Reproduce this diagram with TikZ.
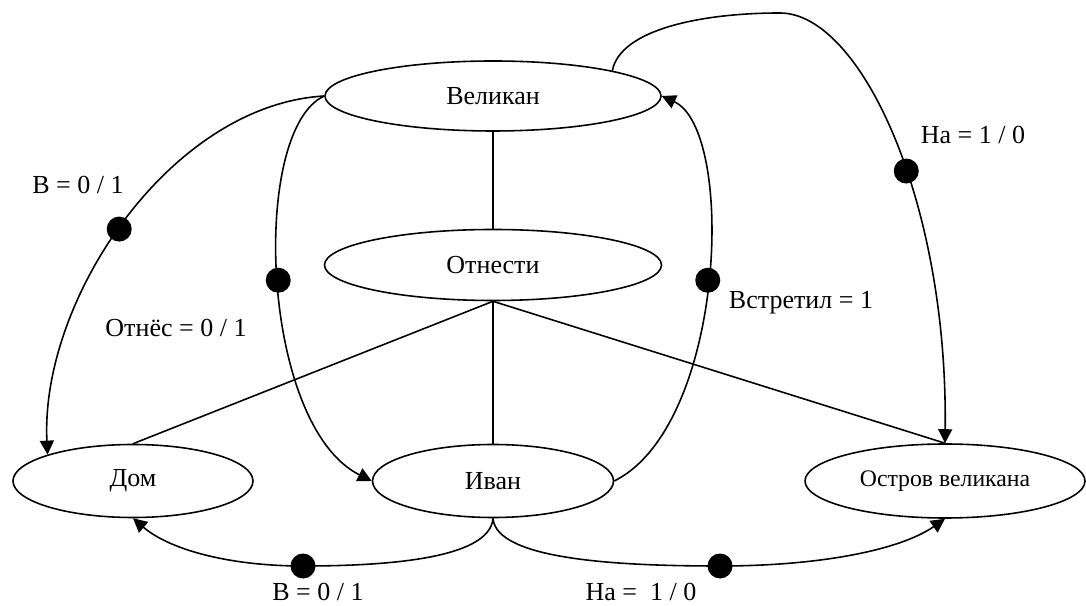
\documentclass[tikz,border=0pt]{standalone}
\usepackage{fontspec}
\setmainfont{Liberation Serif}
\usetikzlibrary{arrows.meta,shapes.geometric}
\tikzset{
  state/.style={draw, ellipse, line width=0.9pt, inner sep=0pt, font=\fontsize{14.8}{17}\selectfont},
  link/.style={line width=0.9pt},
  arc/.style={line width=0.9pt, -{Triangle[length=0.28cm,width=0.28cm]}},
  dot/.style={circle, fill=black, inner sep=0pt, minimum size=0.5cm},
  lbl/.style={font=\fontsize{14.8}{17}\selectfont, inner sep=0pt}
}
\begin{document}
\begin{tikzpicture}
            \useasboundingbox (0,0) rectangle (21.720000,12.100000);

            % States
            \node [state, minimum width=6.72cm, minimum height=1.40cm] (velikan) at (9.860000,10.180000) {Великан};
            \node [state, minimum width=6.74cm, minimum height=1.42cm] (otnesti) at (9.860000,6.800000) {Отнести};
            \node [state, minimum width=4.80cm, minimum height=1.46cm] (dom) at (2.660000,2.480000) {Дом};
            \node [state, minimum width=4.82cm, minimum height=1.46cm] (ivan) at (9.860000,2.480000) {Иван};
            \node [state, minimum width=5.60cm, minimum height=1.48cm, font=\fontsize{13.5}{16}\selectfont] (ostrov) at (18.900000,2.480000) {Остров великана};

            % Drawing plain links
            \draw [link] (velikan.south) -- (otnesti.north);
            \draw [link] (otnesti.south) -- (ivan.north);
            \draw [link] (otnesti.south) -- (dom.north);
            \draw [link] (otnesti.south) -- (ostrov.north);

            % Drawing arc Velikan Dom
            \draw [arc] (velikan.west) .. controls (3.400000,10.000000) and (0.800000,6.100000) .. (dom.north west) node [dot, pos=0.52] {};
            % Drawing arc Velikan Ivan
            \draw [arc] (velikan.west) .. controls (5.000000,9.500000) and (5.200000,3.600000) .. (ivan.west) node [dot, pos=0.5] {};
            % Drawing arc Ivan Velikan
            \draw [arc] (ivan.east) .. controls (14.520000,3.600000) and (14.720000,9.500000) .. (velikan.east) node [dot, pos=0.5] {};
            % Drawing arc Velikan Ostrov
            \draw [arc] (velikan.north east) .. controls (12.400000,11.500000) and (14.000000,11.840000) .. (15.600000,11.840000)
                .. controls (17.200000,11.840000) and (18.960000,8.100000) .. (ostrov.north) node [dot, pos=0.57] {};
            % Drawing arc Ivan Dom
            \draw [arc] (ivan.south) .. controls (9.800000,0.900000) and (7.600000,0.780000) .. (6.060000,0.780000) node [dot] {}
                .. controls (4.600000,0.780000) and (3.400000,1.100000) .. (dom.south);
            % Drawing arc Ivan Ostrov
            \draw [arc] (ivan.south) .. controls (9.920000,0.900000) and (12.400000,0.780000) .. (14.400000,0.780000) node [dot] {}
                .. controls (16.400000,0.780000) and (18.000000,1.100000) .. (ostrov.south);

            % Marking labels
            \node [lbl] (lbVleft) at (1.560000,8.400000) {В = 0 / 1};
            \node [lbl] (lbOtnes) at (3.520000,5.540000) {Отнёс = 0 / 1};
            \node [lbl] (lbVstr) at (16.020000,6.040000) {Встретил = 1};
            \node [lbl] (lbNatop) at (19.460000,9.400000) {На = 1 / 0};
            \node [lbl] (lbVbot) at (6.360000,0.260000) {В = 0 / 1};
            \node [lbl] (lbNabot) at (12.820000,0.260000) {На = \ 1 / 0};
\end{tikzpicture}
\end{document}
